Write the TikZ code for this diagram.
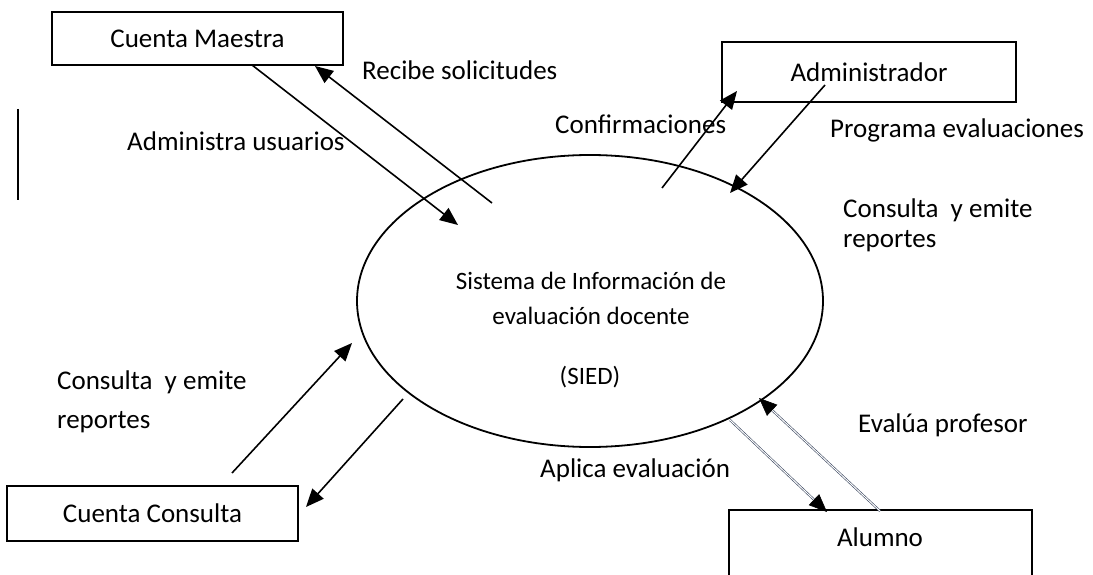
\documentclass[tikz,border=0pt]{standalone}
\usepackage{fontspec}
\setmainfont{Carlito}
\usetikzlibrary{arrows.meta,shapes.geometric}
\tikzset{
  box/.style={draw, line width=1.8pt, rectangle, inner sep=0pt},
  lbl/.style={anchor=base west, inner sep=0pt, font=\fontsize{27}{32}\selectfont},
  inl/.style={anchor=base, inner sep=0pt, font=\fontsize{25}{30}\selectfont},
  flow/.style={line width=1.6pt, -{Triangle[length=18pt,width=15pt]}},
  dflow/.style={draw={rgb,255:red,60;green,72;blue,96}, line width=0.6pt, double=white, double distance=1pt,
     -{Triangle[length=18pt,width=15pt,color=black,fill=black]}},
}
\begin{document}
\begin{tikzpicture}[x=1pt,y=-1pt]
\useasboundingbox (0,0) rectangle (1093,575);
\clip (0,0) rectangle (1093,575);
% boxes
\node[box, minimum width=291pt, minimum height=53pt, font=\fontsize{27}{32}\selectfont] (cm) at (197.5,38.5) {Cuenta Maestra};
\node[box, minimum width=294pt, minimum height=60pt, font=\fontsize{27}{32}\selectfont] (adm) at (869,72) {Administrador};
\node[box, minimum width=291pt, minimum height=55pt, font=\fontsize{27}{32}\selectfont] (cc) at (152.5,513.5) {Cuenta Consulta};
\node[box, minimum width=303pt, minimum height=130pt] (al) at (880.5,575) {};
\node[inl, font=\fontsize{27}{32}\selectfont] (altext) at (880,546) {Alumno};
% central process
\node[draw, ellipse, line width=1.8pt, minimum width=466pt, minimum height=292pt, inner sep=0pt] (sied) at (590,301) {};
\node[inl] (t1) at (591,289) {Sistema de Información de};
\node[inl] (t2) at (591,324) {evaluación docente};
\node[inl] (t3) at (590,384) {(SIED)};
% vertical bar
\draw[line width=2pt] (18,109) -- (18,200);
% coordinates for flow ends
\coordinate (a1s) at (252,65);  \coordinate (a1e) at (458,225);
\coordinate (a2s) at (492,203); \coordinate (a2e) at (315,66);
\coordinate (a3s) at (662,188); \coordinate (a3e) at (737,91);
\coordinate (a4s) at (825,85);  \coordinate (a4e) at (730,193);
\coordinate (a5s) at (232,473); \coordinate (a5e) at (352,343);
\coordinate (a6s) at (403,399); \coordinate (a6e) at (306,507);
\coordinate (a7s) at (730,420); \coordinate (a7e) at (827,512);
\coordinate (a8s) at (880,511); \coordinate (a8e) at (759,398);
\draw[flow] (a1s) -- (a1e);
\draw[flow] (a2s) -- (a2e);
\draw[flow] (a3s) -- (a3e);
\draw[flow] (a4s) -- (a4e);
\draw[flow] (a5s) -- (a5e);
\draw[flow] (a6s) -- (a6e);
\draw[dflow] (a7s) -- (a7e);
\draw[dflow] (a8s) -- (a8e);
% labels
\node[lbl] (l1) at (362,80) {Recibe solicitudes};
\node[lbl] (l2) at (127,151) {Administra usuarios};
\node[lbl] (l3) at (555,134) {Confirmaciones};
\node[lbl] (l4) at (830,138) {Programa evaluaciones};
\node[lbl] (l5) at (843,218) {Consulta\ \ y emite};
\node[lbl] (l6) at (843,247) {reportes};
\node[lbl] (l7) at (57,389) {Consulta\ \ y emite};
\node[lbl] (l8) at (57,428) {reportes};
\node[lbl] (l9) at (540,477) {Aplica evaluación};
\node[lbl] (l10) at (858,432) {Evalúa profesor};
\end{tikzpicture}
\end{document}
